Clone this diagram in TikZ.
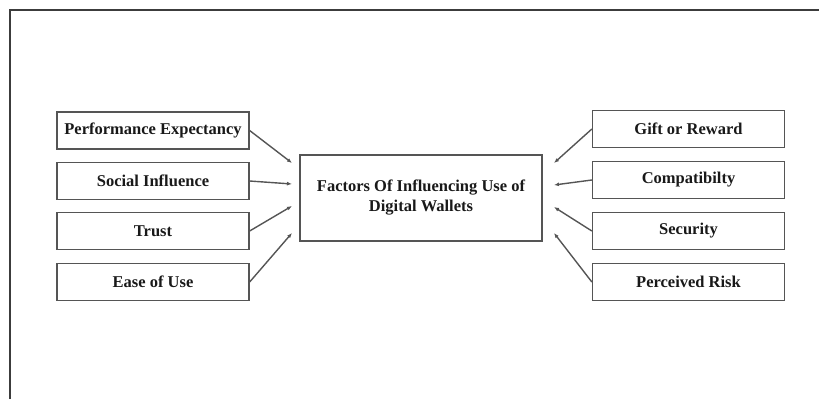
\documentclass[tikz,border=0pt]{standalone}
\usepackage{fontspec}
\setmainfont{Liberation Serif}
\usetikzlibrary{arrows.meta}
\definecolor{framegray}{RGB}{60,60,60}
\definecolor{boxgray}{RGB}{85,85,85}
\definecolor{textdark}{RGB}{25,25,25}

\begin{document}
\begin{tikzpicture}[x=1pt,y=-1pt,
  factor/.style={draw=boxgray,line width=1.3pt,minimum width=192pt,minimum height=37pt,inner sep=0pt,
    font=\bfseries\fontsize{16.5}{20}\selectfont,text=textdark},
  link/.style={boxgray,line width=1.4pt,-{Latex[length=5pt,width=4pt]}}]
\useasboundingbox (0,0) rectangle (819,399);
\draw[framegray,line width=2.2pt] (10,399) -- (10,10) -- (819,10);
\node[factor,minimum width=242pt,minimum height=86pt,align=center] (core) at (421,198)
  {Factors Of Influencing Use of\\Digital Wallets};
% left factors
\foreach \t/\y/\ty [count=\i] in {Performance Expectancy/130.5/163,Social Influence/181/184,
  Trust/231/206,Ease of Use/282/233}{
\node[factor] (left\i) at (153,\y) {\t};
\coordinate (lin\i) at (292,\ty);
\draw[link] (left\i.east) -- (lin\i);
}
% right factors
\foreach \t/\y/\ty [count=\i] in {Gift or Reward/129/163,Compatibilty/180/185,
  Security/231/207,Perceived Risk/282/233}{
\node[factor] (right\i) at (688.5,\y) {\t};
\coordinate (rin\i) at (554,\ty);
\draw[link] (right\i.west) -- (rin\i);
}
\end{tikzpicture}
\end{document}
